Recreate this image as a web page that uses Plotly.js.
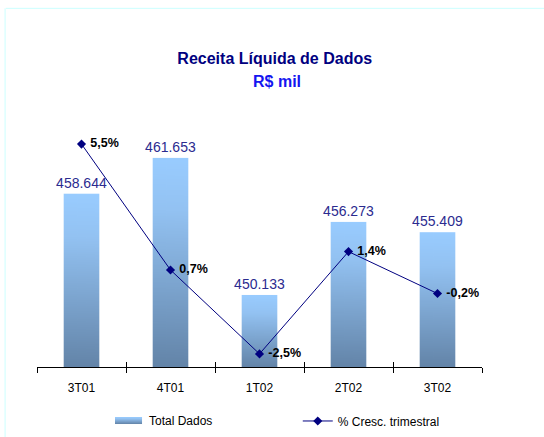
<!DOCTYPE html>
<html><head><meta charset="utf-8">
<script src="https://cdn.plot.ly/plotly-3.0.1.min.js"></script>
<style>html,body{margin:0;padding:0;background:#fff}#chart{width:544px;height:437px}</style>
</head><body><div id="chart"></div>
<script>
const categories = ["3T01", "4T01", "1T02", "2T02", "3T02"];
const totalDados = [458.644, 461.653, 450.133, 456.273, 455.409];
const crescimento = [5.5, 0.7, -2.5, 1.4, -0.2];

const barLabels = totalDados.map(v => v.toFixed(3));
const lineLabels = crescimento.map(v => ' ' + v.toFixed(1).replace('.', ',') + '%');

const FONT = "Arial, 'Liberation Sans', sans-serif";
const Y_MIN = 444.08, Y_MAX = 465.68;
const BAR_W = 0.4;

// vertical gradient image used as the bar fill
function gradientURL() {
  const c = document.createElement('canvas');
  c.width = 4; c.height = 256;
  const ctx = c.getContext('2d');
  const g = ctx.createLinearGradient(0, 0, 0, 256);
  g.addColorStop(0, '#99ccff');
  g.addColorStop(0.25, '#93c2f2');
  g.addColorStop(1, '#6384a8');
  ctx.fillStyle = g;
  ctx.fillRect(0, 0, 4, 256);
  return c.toDataURL('image/png');
}
const GRAD = gradientURL();

const traces = [
  {
    type: 'bar', name: 'Total Dados', x: categories, y: totalDados,
    width: BAR_W, marker: {color: 'rgba(0,0,0,0)', line: {width: 0}},
    text: barLabels, textposition: 'outside', cliponaxis: false, constraintext: 'none',
    textfont: {family: FONT, size: 14, color: '#2b2b8f'},
    showlegend: false, hoverinfo: 'skip'
  },
  {
    type: 'scatter', mode: 'lines+markers+text', name: '% Cresc. trimestral',
    x: categories, y: crescimento, xaxis: 'x2', yaxis: 'y2',
    line: {color: '#000080', width: 1},
    marker: {symbol: 'diamond', size: 7, color: '#000080'},
    text: lineLabels, textposition: 'middle right', cliponaxis: false,
    textfont: {family: FONT, size: 12.5, color: '#000000', weight: 'bold'},
    hoverinfo: 'skip'
  }
];

const barImages = totalDados.map((v, i) => ({
  source: GRAD, xref: 'x', yref: 'y',
  x: i, y: v, xanchor: 'center', yanchor: 'top',
  sizex: BAR_W, sizey: v - Y_MIN, sizing: 'stretch', layer: 'below'
}));

const layout = {
  width: 544, height: 437,
  margin: {l: 37, r: 62, t: 110, b: 70, autoexpand: false},
  paper_bgcolor: '#ffffff', plot_bgcolor: 'rgba(0,0,0,0)',
  font: {family: FONT, size: 12, color: '#000'},
  showlegend: true,
  title: {
    text: "<b>Receita Líquida de Dados</b>",
    font: {family: FONT, size: 16, color: '#000080'},
    x: 0.505, xanchor: 'center', y: 0.8673, yanchor: 'middle'
  },
  xaxis: {
    type: 'category', showgrid: false, zeroline: false,
    showline: true, linecolor: '#000', linewidth: 1,
    ticks: 'outside', ticklen: 5, tickcolor: '#000', tickson: 'boundaries',
    ticklabelstandoff: 10,
    tickfont: {family: FONT, size: 12, color: '#000'}, fixedrange: true
  },
  xaxis2: {
    type: 'category', overlaying: 'x', matches: 'x', anchor: 'y', showgrid: false, zeroline: false,
    showline: false, ticks: 'inside', ticklen: 5, tickcolor: '#000', tickson: 'boundaries',
    showticklabels: false, side: 'bottom'
  },
  yaxis: {
    range: [Y_MIN, Y_MAX], visible: false, showgrid: false, zeroline: false
  },
  yaxis2: {
    range: [-3, 6.8], overlaying: 'y', visible: false, showgrid: false, zeroline: false
  },
  legend: {
    orientation: 'h', x: 0.586, xanchor: 'left', y: -0.21, yanchor: 'middle',
    font: {family: FONT, size: 12, color: '#000'}
  },
  images: barImages.concat([{
    source: GRAD, xref: 'paper', yref: 'paper',
    x: 0.1753, y: -0.1946, xanchor: 'left', yanchor: 'top',
    sizex: 0.0607, sizey: 0.0272, sizing: 'stretch', layer: 'above'
  }]),
  annotations: [
    {
      text: '<b>R$ mil</b>', xref: 'paper', yref: 'paper', x: 0.5404, y: 1.1128,
      xanchor: 'center', yanchor: 'middle', showarrow: false,
      font: {family: FONT, size: 16, color: '#1515f0'}
    },
    {
      text: 'Total Dados', xref: 'paper', yref: 'paper', x: 0.2472, y: -0.2101,
      xanchor: 'left', yanchor: 'middle', showarrow: false,
      font: {family: FONT, size: 12, color: '#000'}
    }
  ],
  shapes: [
    {type: 'line', xref: 'paper', yref: 'paper', x0: -0.07, x1: 1.2, y0: 1.3955, y1: 1.3955,
     line: {color: '#ccffff', width: 1}},
    {type: 'line', xref: 'paper', yref: 'paper', x0: -0.0717, x1: -0.0717, y0: 1.3955, y1: -0.5,
     line: {color: '#ccffff', width: 1}}
  ]
};

Plotly.newPlot('chart', traces, layout, {displayModeBar: false, staticPlot: true});
</script></body></html>
